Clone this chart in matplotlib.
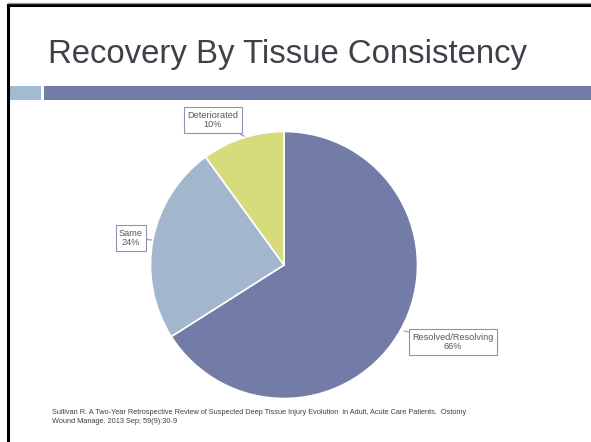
import matplotlib.pyplot as plt
from matplotlib.patches import Rectangle

plt.rcParams["font.family"] = ["Liberation Sans", "DejaVu Sans"]

categories = ["Resolved/Resolving", "Same", "Deteriorated"]
shares = [66, 24, 10]
colors = ["#727CA6", "#A2B7CD", "#D6DC7C"]
title = "Recovery By Tissue Consistency"
source = ("Sullivan R. A Two-Year Retrospective Review of Suspected Deep Tissue Injury Evolution  in Adult, "
          "Acute Care Patients.  Ostomy\nWound Manage. 2013 Sep; 59(9):30-9")

W, H = 591, 442
fig = plt.figure(figsize=(W / 100, H / 100), dpi=100)

# slide background in pixel coordinates
bg = fig.add_axes([0, 0, 1, 1])
bg.set_xlim(0, W)
bg.set_ylim(H, 0)
bg.axis("off")
bg.plot([7.5, 7.5], [4.5, H], color="black", lw=2.2)
bg.plot([7.5, W], [4.5, 4.5], color="black", lw=2.2)
bg.plot([7.5, W], [2.5, 2.5], color="#999999", lw=1)
bg.add_patch(Rectangle((8.5, 86), 32, 14, color="#A3BBD0", lw=0))
bg.add_patch(Rectangle((44, 86), W - 44, 14, color="#727CA6", lw=0))
bg.text(48, 63, title, fontsize=23.7, color="#404048", va="baseline", ha="left")
bg.text(52, 417, source, fontsize=5.3, color="#404040", va="center", ha="left", linespacing=1.3)

# pie chart
cx, cy, r = 284, 265, 133.5
pax = fig.add_axes([(cx - r) / W, (H - cy - r) / H, 2 * r / W, 2 * r / H])
wedges, _ = pax.pie(shares, colors=colors, startangle=90, counterclock=False,
                    wedgeprops=dict(edgecolor="white", linewidth=1.2))
pax.set_xlim(-1, 1)
pax.set_ylim(-1, 1)
pax.set_aspect("equal")

# callout labels
label_pos = [(453, 342), (131, 238), (213, 120)]
tips = [(404, 331), (152, 240), (246, 137)]
box = dict(boxstyle="square,pad=0.35", fc="white", ec="#8C95B8", lw=0.8)
for name, val, (lx, ly), (tx, ty) in zip(categories, shares, label_pos, tips):
    bg.annotate(f"{name}\n{val}%", xy=(tx, ty), xytext=(lx, ly),
                ha="center", va="center", fontsize=6.6, color="#595959",
                bbox=box, linespacing=1.1,
                arrowprops=dict(arrowstyle="-", color="#8C95B8", lw=0.8,
                                shrinkA=0, shrinkB=0))

fig.savefig("out.png", dpi=100)
